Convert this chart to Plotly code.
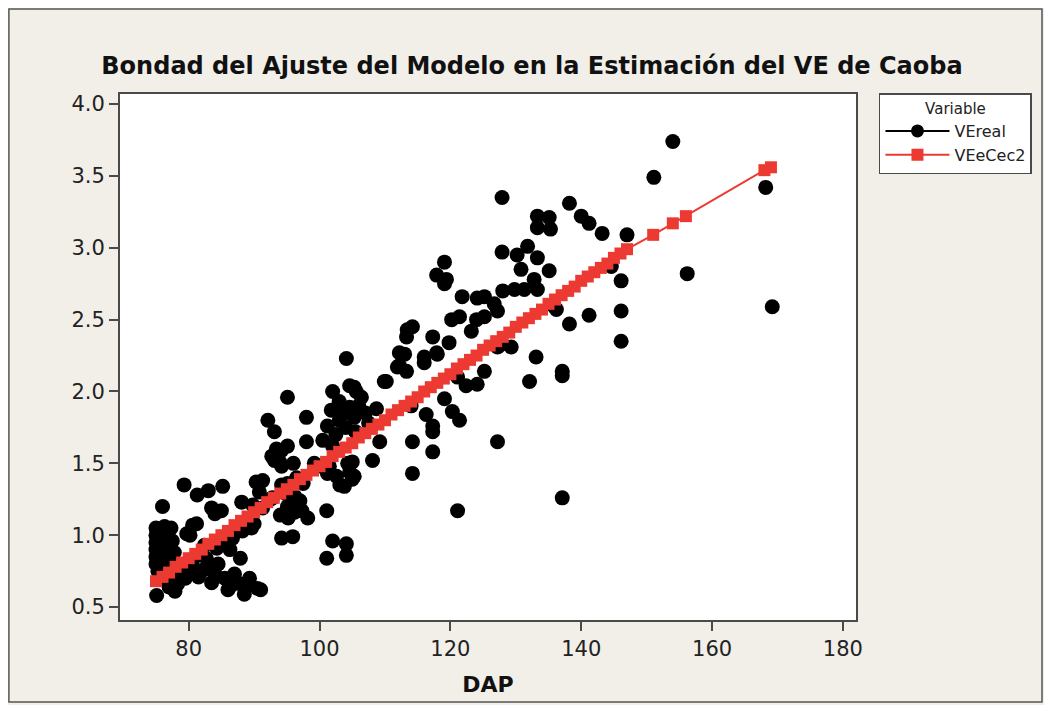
import plotly.graph_objects as go

# ---- data ----
dap_real = [
    75.0, 75.0, 75.0, 75.0, 75.0, 75.0, 75.3, 75.5, 75.6, 75.8, 76.3, 76.5, 76.8, 77.3, 77.0, 77.5, 77.8, 76.0,
    75.1, 76.0, 77.9, 78.3, 78.6, 80.2, 79.5, 80.6,
    79.3, 81.3, 83.0, 85.2, 80.2, 81.2, 83.5, 85.0, 84.0, 88.1, 90.3, 91.3, 92.7, 93.9, 93.4, 90.8, 92.8,
    89.8, 91.3, 90.0, 92.5,
    94.0, 95.2, 96.2, 97.3, 98.2, 94.2, 95.9, 97.0, 96.2, 95.1,
    89.6, 88.2, 86.7, 85.2, 84.3, 82.4, 81.2, 82.7, 87.9, 86.3, 79.7, 80.6,
    84.5, 82.3, 81.5, 83.5, 86.0, 88.0, 89.3, 91.0, 88.5, 86.5, 84.0, 85.5, 87.0, 89.0, 90.5, 83.0, 78.8,
    77.0, 76.5,
    92.1, 93.1, 95.1, 98.0, 98.0, 94.2, 95.1, 93.1, 94.2, 95.1, 96.5, 97.5, 96.0, 94.8, 94.2, 95.1, 99.2,
    100.3, 101.2,
    102.0, 105.3, 106.4, 101.8, 101.2, 103.8, 104.6, 105.3, 103.0, 104.0, 102.5, 105.5, 104.1, 106.0, 107.0,
    103.0, 100.5, 102.0, 101.5, 102.6, 103.1, 105.0, 104.6, 105.0, 108.1, 108.7, 109.2, 107.5, 104.6, 105.6,
    104.3, 105.3, 103.8, 101.1, 102.0, 104.1, 104.1, 101.1,
    110.2, 111.9, 113.0, 112.2, 112.2, 113.3, 109.9, 113.4, 114.2, 113.3, 116.0, 117.9, 117.3, 119.8, 118.0,
    116.0, 114.0, 116.3, 117.3, 117.3, 119.1, 120.3, 121.4, 114.2, 117.3, 114.2, 121.1, 119.1, 117.9, 119.4,
    119.1, 121.8, 124.1, 120.2, 121.4, 124.0, 123.2, 121.1, 122.4, 124.1, 125.2,
    127.9, 138.2, 133.3, 135.1, 133.3, 135.3, 140.0, 141.2, 143.2, 147.0, 127.9, 130.2, 131.8, 133.3, 130.8,
    135.1, 132.8, 131.3, 133.3, 129.8, 128.0, 126.7, 127.2, 125.2, 125.2, 146.1, 156.2, 146.1, 141.2, 138.2,
    135.9, 144.6, 146.1, 169.2, 127.2, 129.3, 133.1, 132.1, 137.1, 137.1, 127.2, 137.1, 154.0, 151.1, 168.2,
    127.5, 136.2,
]
ve_real = [
    1.05, 1.00, 0.95, 0.90, 0.85, 0.80, 0.75, 1.03, 0.93, 0.87, 1.06, 0.98, 0.90, 1.05, 0.82, 0.96, 0.88, 0.78,
    0.58, 1.20, 0.61, 0.66, 0.72, 0.75, 0.70, 0.79,
    1.35, 1.28, 1.31, 1.34, 1.00, 1.08, 1.19, 1.17, 1.15, 1.23, 1.37, 1.38, 1.55, 1.51, 1.60, 1.30, 1.26,
    1.21, 1.19, 1.08, 1.25,
    1.14, 1.12, 1.16, 1.17, 1.12, 0.98, 0.99, 1.24, 1.27, 1.20,
    1.05, 1.03, 0.98, 0.96, 0.91, 0.93, 0.86, 0.84, 0.84, 0.90, 1.01, 1.07,
    0.80, 0.76, 0.71, 0.67, 0.62, 0.66, 0.70, 0.62, 0.59, 0.65, 0.73, 0.70, 0.73, 0.65, 0.63, 0.79, 0.78,
    0.64, 0.70,
    1.80, 1.72, 1.96, 1.82, 1.65, 1.59, 1.62, 1.52, 1.48, 1.30, 1.40, 1.36, 1.50, 1.29, 1.35, 1.36, 1.50,
    1.48, 1.43,
    2.00, 2.03, 1.96, 1.87, 1.76, 1.85, 1.89, 1.82, 1.80, 1.75, 1.70, 1.72, 2.23, 1.90, 1.85,
    1.93, 1.66, 1.62, 1.48, 1.41, 1.35, 1.51, 1.44, 1.39, 1.52, 1.88, 1.65, 1.78, 2.04, 2.00,
    1.50, 1.41, 1.34, 1.17, 0.96, 0.94, 0.86, 0.84,
    2.07, 2.17, 2.26, 2.27, 2.18, 2.14, 2.07, 2.43, 2.45, 2.38, 2.24, 2.27, 2.38, 2.34, 2.26,
    2.20, 1.90, 1.84, 1.76, 1.72, 1.95, 1.86, 1.80, 1.65, 1.58, 1.43, 1.17, 2.90, 2.81, 2.78,
    2.75, 2.66, 2.65, 2.50, 2.52, 2.50, 2.42, 2.10, 2.04, 2.05, 2.14,
    3.35, 3.31, 3.22, 3.21, 3.14, 3.13, 3.22, 3.17, 3.10, 3.09, 2.97, 2.95, 3.01, 2.93, 2.85,
    2.84, 2.78, 2.71, 2.71, 2.71, 2.70, 2.61, 2.56, 2.66, 2.52, 2.77, 2.82, 2.56, 2.53, 2.47,
    2.59, 2.87, 2.35, 2.59, 2.31, 2.31, 2.24, 2.07, 2.14, 2.11, 1.65, 1.26, 3.74, 3.49, 3.42,
    2.32, 2.57,
]

dap_model = [
    75, 76, 77, 78, 79, 80, 81, 82, 83, 84, 85, 86, 87, 88, 89, 90, 91, 92, 93, 94, 95, 96, 97, 98, 99,
    100, 101, 102, 103, 104, 105, 106, 107, 108, 109, 110, 111, 112, 113, 114, 115, 116, 117, 118, 119,
    120, 121, 122, 123, 124, 125, 126, 127, 128, 129, 130, 131, 132, 133, 134, 135, 136, 137, 138, 139,
    140, 141, 142, 143, 144, 145, 146, 147, 151, 154, 156, 168, 169,
]
ve_model = [
    0.68, 0.71, 0.74, 0.78, 0.81, 0.84, 0.87, 0.90, 0.94, 0.97, 1.00, 1.03, 1.07, 1.10, 1.13, 1.16, 1.19,
    1.23, 1.26, 1.29, 1.32, 1.35, 1.39, 1.42, 1.45,
    1.48, 1.51, 1.55, 1.58, 1.61, 1.64, 1.68, 1.71, 1.74, 1.77, 1.80, 1.84, 1.87, 1.90, 1.93, 1.96, 2.00,
    2.03, 2.06, 2.09,
    2.12, 2.16, 2.19, 2.22, 2.25, 2.29, 2.32, 2.35, 2.38, 2.41, 2.45, 2.48, 2.51, 2.54, 2.57, 2.61, 2.64,
    2.67, 2.70, 2.73,
    2.77, 2.80, 2.83, 2.86, 2.89, 2.93, 2.96, 2.99, 3.09, 3.17, 3.22, 3.54, 3.56,
]

x_ticks = [80, 100, 120, 140, 160, 180]
y_ticks = [0.5, 1.0, 1.5, 2.0, 2.5, 3.0, 3.5, 4.0]

title_text = "Bondad del Ajuste del Modelo en la Estimación del VE de Caoba"
x_title = "DAP"
legend_title = "Variable"
names = ["VEreal", "VEeCec2"]

# ---- styling ----
# the page body has an 8px margin, so figure pixel = screen pixel - 8
W, H = 1036, 697
L, R, T, B = 112, 849, 86, 614  # plot area in figure pixels
BEIGE = "#f2efe9"
FRAME = "#4a4a4a"
RED = "#ec3a32"
FONT = "DejaVu Sans"


def px2paper_x(px):
    return (px - L) / (R - L)


def px2paper_y(py):
    return (B - py) / (B - T)


fig = go.Figure()

fig.add_trace(go.Scatter(
    x=dap_real, y=ve_real, mode="markers", name=names[0], showlegend=False,
    marker=dict(symbol="circle", size=15, color="black", line=dict(width=0)),
))
# legend entry for VEreal (line + dot symbol)
fig.add_trace(go.Scatter(
    x=[None], y=[None], mode="lines+markers", name=names[0],
    marker=dict(symbol="circle", size=13, color="black"),
    line=dict(color="black", width=2),
))
fig.add_trace(go.Scatter(
    x=dap_model, y=ve_model, mode="lines+markers", name=names[1],
    marker=dict(symbol="square", size=12, color=RED, line=dict(width=0)),
    line=dict(color=RED, width=2),
))

shapes = [
    # thin outer frame around the beige panel
    dict(type="rect", xref="paper", yref="paper", layer="below",
         x0=px2paper_x(0.75), x1=px2paper_x(W - 0.75), y0=px2paper_y(H - 0.75), y1=px2paper_y(0.75),
         fillcolor=BEIGE, line=dict(color="#555555", width=1.5)),
    # white plot area
    dict(type="rect", xref="paper", yref="paper", layer="below",
         x0=0, x1=1, y0=0, y1=1, fillcolor="white", line=dict(width=0)),
]

fig.update_layout(
    width=W, height=H,
    margin=dict(l=L, r=W - R, t=T, b=H - B),
    paper_bgcolor=BEIGE,
    plot_bgcolor="white",
    font=dict(family=FONT, color="#222222"),
    title=dict(text=title_text, x=(524 - 0) / W, xanchor="center", y=1 - 58 / H, yanchor="middle",
               font=dict(family=FONT, size=24, color="#111111", weight="bold")),
    shapes=shapes,
    showlegend=True,
    legend=dict(
        x=px2paper_x(872), y=px2paper_y(85), xanchor="left", yanchor="top",
        bgcolor="white", bordercolor=FRAME, borderwidth=1.5,
        font=dict(family=FONT, size=16, color="#222222"),
        title=dict(text=legend_title, side="top center", font=dict(family=FONT, size=15, color="#222222")),
        itemwidth=64,
    ),
)

axis_common = dict(
    showline=True, mirror=True, linecolor=FRAME, linewidth=2,
    ticks="outside", ticklen=9, tickwidth=2, tickcolor=FRAME,
    showgrid=False, zeroline=False,
    tickfont=dict(family=FONT, size=21, color="#222222"),
)

fig.update_xaxes(range=[69.5, 182.0], tickvals=x_ticks, **axis_common,
                 title=dict(text=x_title, standoff=16,
                            font=dict(family=FONT, size=22, color="#111111", weight="bold")))
fig.update_yaxes(range=[0.41, 4.07], tickvals=y_ticks, tickformat=".1f", **axis_common)

fig.write_html("out.html")
